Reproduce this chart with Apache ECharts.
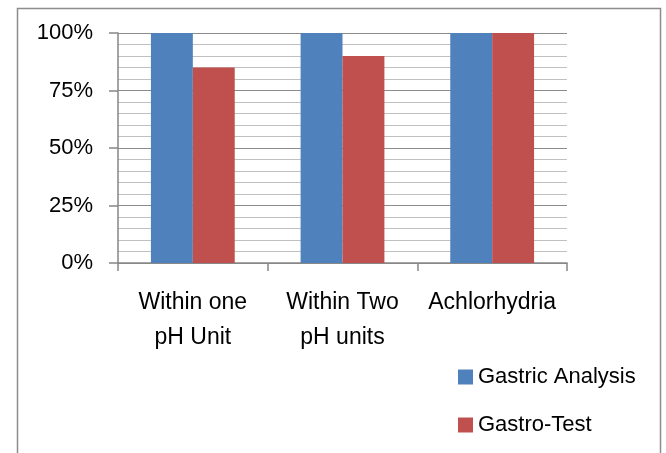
<!DOCTYPE html>
<html><head><meta charset="utf-8">
<script src="https://cdn.jsdelivr.net/npm/echarts@6/dist/echarts.min.js"></script>
<style>html,body{margin:0;padding:0;background:#fff}#c{width:666px;height:453px}</style>
</head><body><div id="c"></div>
<script>
const categories = ["Within one\npH Unit", "Within Two\npH units", "Achlorhydria"];
const gastricAnalysis = [100, 100, 100];
const gastroTest = [85, 90, 100];
const seriesNames = ["Gastric Analysis", "Gastro-Test"];
const FONT = "Liberation Sans";
const chart = echarts.init(document.getElementById('c'));
chart.setOption({
  animation: false,
  textStyle: {fontFamily: FONT},
  graphic: [{type: 'rect', shape: {x: 17.5, y: 8.5, width: 643, height: 460}, style: {fill: 'none', stroke: '#8c8c8c', lineWidth: 1.5}, silent: true}],
  grid: {left: 118, right: 99, top: 33, bottom: 190},
  legend: {
    orient: 'vertical', left: 453, top: 360, itemWidth: 15, itemHeight: 15, itemGap: 24,
    icon: 'rect', textStyle: {fontSize: 22, lineHeight: 24, color: '#000', fontFamily: FONT},
    data: seriesNames
  },
  xAxis: {
    type: 'category', data: categories,
    axisLine: {lineStyle: {color: '#868686', width: 1.5}},
    axisTick: {show: true, length: 8, lineStyle: {color: '#868686', width: 1.5}},
    axisLabel: {interval: 0, hideOverlap: false, fontSize: 23, color: '#000', margin: 22, lineHeight: 35, fontFamily: FONT, verticalAlign: 'top'}
  },
  yAxis: {
    type: 'value', min: 0, max: 100, interval: 25,
    axisLine: {show: true, lineStyle: {color: '#868686', width: 1.5}},
    axisTick: {show: true, length: 9, lineStyle: {color: '#868686', width: 1.5}},
    axisLabel: {formatter: '{value}%', fontSize: 22, color: '#000', margin: 25, fontFamily: FONT},
    splitLine: {lineStyle: {color: '#8c8c8c', width: 1.2}},
    minorTick: {show: false, splitNumber: 5},
    minorSplitLine: {show: true, lineStyle: {color: '#c0c0c0', width: 1.2}}
  },
  series: [
    {name: seriesNames[0], type: 'bar', data: gastricAnalysis, barGap: '0%', barCategoryGap: '44%', itemStyle: {color: '#4f81bd'}},
    {name: seriesNames[1], type: 'bar', data: gastroTest, barGap: '0%', barCategoryGap: '44%', itemStyle: {color: '#c0504d'}}
  ]
});
</script></body></html>
